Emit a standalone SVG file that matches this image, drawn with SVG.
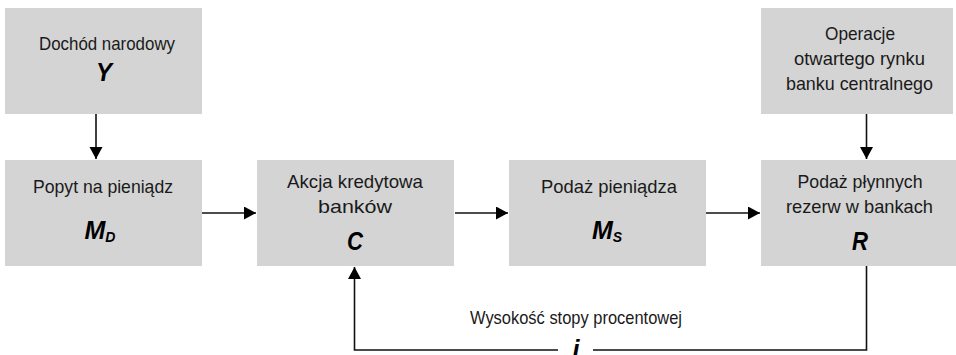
<svg xmlns="http://www.w3.org/2000/svg" width="956" height="355" viewBox="0 0 956 355">
<defs>
<style>
.box{fill:#d4d4d4;stroke:none}
.t{font-family:"Liberation Sans",Arial,sans-serif;font-size:18.5px;fill:#1a1a1a;text-anchor:middle}
.v{font-family:"Liberation Sans",Arial,sans-serif;font-size:25px;font-weight:bold;font-style:italic;fill:#000;text-anchor:middle}
.sub{font-size:14px}
.ln{fill:none;stroke:#111;stroke-width:1.6}
</style>
<marker id="ah" markerUnits="userSpaceOnUse" markerWidth="13" markerHeight="14" refX="12" refY="6.5" orient="auto">
<path d="M0,0 L12,6.5 L0,13 Z" fill="#000"/>
</marker>
</defs>
<rect width="956" height="355" fill="#fff"/>
<g id="connectors">
<line class="ln" x1="96" y1="114" x2="96" y2="159" marker-end="url(#ah)"/>
<line class="ln" x1="200" y1="213" x2="256" y2="213" marker-end="url(#ah)"/>
<line class="ln" x1="455" y1="213" x2="508" y2="213" marker-end="url(#ah)"/>
<line class="ln" x1="706" y1="213" x2="760" y2="213" marker-end="url(#ah)"/>
<line class="ln" x1="866.5" y1="114" x2="866.5" y2="159" marker-end="url(#ah)"/>
<polyline class="ln" points="866.5,266 866.5,350 593,350"/>
<polyline class="ln" points="558,350 354.5,350 354.5,267" marker-end="url(#ah)"/>
</g>
<g id="node-Y">
<rect class="box" x="5" y="8" width="197" height="106"/>
<text class="t" x="107" y="50" textLength="136" lengthAdjust="spacingAndGlyphs">Dochód narodowy</text>
<text class="v" x="104" y="81" textLength="16" lengthAdjust="spacingAndGlyphs">Y</text>
</g>
<g id="node-MD">
<rect class="box" x="5" y="160" width="197" height="106"/>
<text class="t" x="103" y="193" textLength="140" lengthAdjust="spacingAndGlyphs">Popyt na pieniądz</text>
<text class="v" x="100" y="239">M<tspan class="sub" dy="3">D</tspan></text>
</g>
<g id="node-C">
<rect class="box" x="257" y="160" width="197" height="106"/>
<text class="t" x="355" y="188" textLength="136" lengthAdjust="spacingAndGlyphs">Akcja kredytowa</text>
<text class="t" x="355" y="213" textLength="74" lengthAdjust="spacingAndGlyphs">banków</text>
<text class="v" x="355" y="250" textLength="16" lengthAdjust="spacingAndGlyphs">C</text>
</g>
<g id="node-MS">
<rect class="box" x="509" y="160" width="197" height="106"/>
<text class="t" x="609" y="193" textLength="136" lengthAdjust="spacingAndGlyphs">Podaż pieniądza</text>
<text class="v" x="607" y="239">M<tspan class="sub" dy="3">S</tspan></text>
</g>
<g id="node-R">
<rect class="box" x="761" y="160" width="195" height="106"/>
<text class="t" x="860" y="188" textLength="125" lengthAdjust="spacingAndGlyphs">Podaż płynnych</text>
<text class="t" x="859.5" y="213" textLength="147" lengthAdjust="spacingAndGlyphs">rezerw w bankach</text>
<text class="v" x="860" y="250" textLength="16" lengthAdjust="spacingAndGlyphs">R</text>
</g>
<g id="node-OP">
<rect class="box" x="761" y="8" width="192" height="106"/>
<text class="t" x="860" y="40" textLength="70" lengthAdjust="spacingAndGlyphs">Operacje</text>
<text class="t" x="859.5" y="65" textLength="131" lengthAdjust="spacingAndGlyphs">otwartego rynku</text>
<text class="t" x="859.5" y="90" textLength="147" lengthAdjust="spacingAndGlyphs">banku centralnego</text>
</g>
<g id="label-i">
<text class="t" x="576" y="324" textLength="212" lengthAdjust="spacingAndGlyphs">Wysokość stopy procentowej</text>
<text class="v" x="576" y="358">i</text>
</g>
</svg>
